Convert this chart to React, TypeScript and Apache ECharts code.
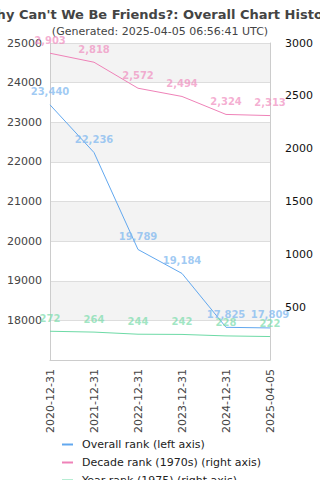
import React, { useEffect, useRef } from "react";
import * as echarts from "echarts";

const categories = ["2020-12-31", "2021-12-31", "2022-12-31", "2023-12-31", "2024-12-31", "2025-04-05"];
const overallRank = [23440, 22236, 19789, 19184, 17825, 17809];
const decadeRank = [2903, 2818, 2572, 2494, 2324, 2313];
const yearRank = [272, 264, 244, 242, 228, 222];

const fmt = (p: any) => Number(p.value).toLocaleString("en-US");
const FONT = "DejaVu Sans";

export default function App() {
  const ref = useRef<HTMLDivElement>(null);
  useEffect(() => {
    const chart = echarts.init(ref.current!, null, { renderer: "svg" });
    const mkSeries = (name: string, data: number[], color: string, labelColor: string, yAxisIndex: number) => ({
      name,
      type: "line",
      data,
      yAxisIndex,
      symbol: "circle",
      symbolSize: 0,
      showSymbol: true,
      lineStyle: { width: 1, color },
      itemStyle: { color },
      labelLayout: { hideOverlap: false },
      label: {
        show: true,
        position: "top",
        formatter: fmt,
        color: labelColor,
        fontSize: 10,
        fontWeight: "bold",
        fontFamily: FONT,
        distance: 8,
      },
    });
    chart.setOption({
      animation: false,
      textStyle: { fontFamily: FONT },
      title: {
        text: "Why Can't We Be Friends?: Overall Chart History",
        subtext: "(Generated: 2025-04-05 06:56:41 UTC)",
        left: "center",
        top: 3,
        itemGap: 5,
        textStyle: { fontSize: 13, fontWeight: "bold", color: "#444", fontFamily: FONT },
        subtextStyle: { fontSize: 11, color: "#444", fontFamily: FONT },
      },
      legend: {
        orient: "vertical",
        left: 57,
        top: 434,
        height: 120,
        itemWidth: 11,
        itemHeight: 2,
        itemGap: 7,
        textStyle: { fontSize: 11, color: "#222", fontFamily: FONT, padding: [0, 0, 0, 4] },
        icon: "rect",
        data: ["Overall rank (left axis)", "Decade rank (1970s) (right axis)", "Year rank (1975) (right axis)"],
      },
      grid: { left: 50, right: 50, top: 43, bottom: 120, containLabel: false },
      xAxis: {
        type: "category",
        data: categories,
        boundaryGap: false,
        axisLine: { lineStyle: { color: "#ccc" } },
        axisTick: { show: false },
        axisLabel: { rotate: 90, fontSize: 11, color: "#444", margin: 9, fontFamily: FONT },
        splitLine: { show: false },
      },
      yAxis: [
        {
          type: "value",
          min: 17000,
          max: 25000,
          interval: 1000,
          position: "left",
          axisLine: { show: true, lineStyle: { color: "#ccc" } },
          axisTick: { show: false },
          axisLabel: { fontSize: 11, color: "#444", showMinLabel: false, formatter: (v: number) => String(v), fontFamily: FONT, margin: 8 },
          splitLine: { show: true, lineStyle: { color: "#ddd" } },
          splitArea: { show: true, areaStyle: { color: ["#ffffff", "#f3f3f3"] } },
        },
        {
          type: "value",
          min: 0,
          max: 3000,
          interval: 500,
          position: "right",
          axisLine: { show: true, lineStyle: { color: "#ccc" } },
          axisTick: { show: false },
          axisLabel: { fontSize: 11, color: "#111", showMinLabel: false, formatter: (v: number) => String(v), fontFamily: FONT, margin: 15 },
          splitLine: { show: false },
        },
      ],
      series: [
        mkSeries("Overall rank (left axis)", overallRank, "#62a8ef", "rgba(130,185,240,0.75)", 0),
        mkSeries("Decade rank (1970s) (right axis)", decadeRank, "#ef82b8", "rgba(240,140,190,0.7)", 1),
        mkSeries("Year rank (1975) (right axis)", yearRank, "#6ddaa6", "rgba(120,220,170,0.7)", 1),
      ],
    });
    return () => chart.dispose();
  }, []);
  return <div ref={ref} style={{ position: "absolute", left: 0, top: 0, width: 320, height: 480 }} />;
}
